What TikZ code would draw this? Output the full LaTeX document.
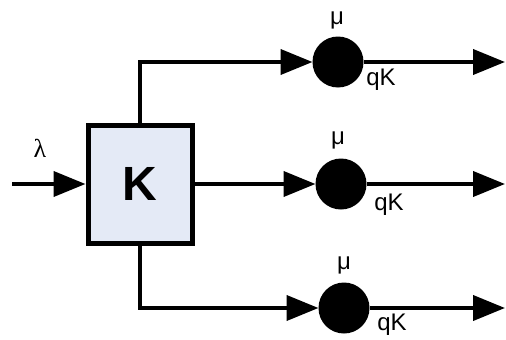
\documentclass[tikz,border=0pt]{standalone}
\usepackage{fontspec}
\setmainfont{Liberation Sans}
\newfontfamily\lamfont{Liberation Serif}
\usetikzlibrary{arrows.meta}
\definecolor{boxfill}{RGB}{228,234,246}
\tikzset{
  conn/.style={line width=4pt, -{Triangle[length=32pt,width=25pt]}},
  server/.style={circle, fill=black, inner sep=0pt, outer sep=0pt, minimum size=51pt},
  qbox/.style={draw, line width=5pt, fill=boxfill, minimum width=104pt, minimum height=118pt, inner sep=0pt, outer sep=2.5pt, font=\fontsize{48}{48}\selectfont\bfseries},
  lab/.style={inner sep=0pt, font=\fontsize{24}{24}\selectfont},
}
\begin{document}
\begin{tikzpicture}[x=1pt,y=-1pt]
\useasboundingbox (0,0) rectangle (506,340);
\node[qbox] (K) at (140,184) {K};
\coordinate (in) at (12,184);
\node[server] (c1) at (338,62) {};
\node[server] (c2) at (341,184) {};
\node[server] (c3) at (344,308) {};
\coordinate (o1) at (505,62);
\coordinate (o2) at (505,184);
\coordinate (o3) at (505,308);
\draw[conn] (in) -- (K.west);
\draw[conn] (K.north) |- (c1);
\draw[conn] (K.east) -- (c2);
\draw[conn] (K.south) |- (c3);
\draw[conn] (c1) -- (o1);
\draw[conn] (c2) -- (o2);
\draw[conn] (c3) -- (o3);
\node[lab, font=\fontsize{26}{26}\lamfont] (lam) at (40,148) {λ};
\node[lab] (m1) at (337,20) {μ};
\node[lab] (m2) at (338,140) {μ};
\node[lab] (m3) at (344,265) {μ};
\node[lab] (q1) at (381,80) {qK};
\node[lab] (q2) at (389,205) {qK};
\node[lab] (q3) at (392,325) {qK};
\end{tikzpicture}
\end{document}
